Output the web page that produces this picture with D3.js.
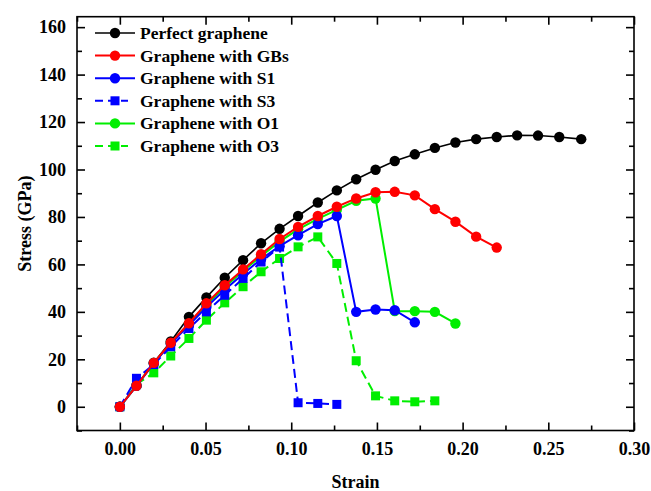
<!DOCTYPE html>
<html><head><meta charset="utf-8">
<script src="https://cdn.jsdelivr.net/npm/d3@7"></script>
<style>body{margin:0;background:#fff}svg{display:block}text{font-family:"Liberation Serif","Times New Roman",serif;font-weight:bold;fill:#000}</style>
</head><body>
<svg id="c" width="651" height="491"></svg>
<script>
// strain grid shared by all series
const strain = [0, 0.0097, 0.0198, 0.0297, 0.0403, 0.0505, 0.0612, 0.0719, 0.0824, 0.0932,
  0.1040, 0.1155, 0.1266, 0.1379, 0.1492, 0.1604, 0.1721, 0.1838, 0.1958, 0.2079,
  0.2199, 0.2318, 0.2440, 0.2564, 0.2692];
const perfect = [0, 9.0, 18.6, 27.5, 37.9, 46.1, 54.4, 61.8, 68.9, 75.0, 80.4, 86.1, 91.2, 95.9, 99.9,
  103.6, 106.4, 109.1, 111.4, 112.8, 113.7, 114.4, 114.3, 113.7, 112.8];
const gbs = [0, 8.85, 18.5, 27.0, 35.2, 43.6, 51.2, 57.9, 64.3, 70.7, 75.8, 80.4, 84.3, 87.8, 90.4,
  90.6, 89.1, 83.3, 78.0, 71.7, 67.1];
const s1 = [0, 8.8, 18.3, 26.6, 34.3, 42.0, 49.3, 56.0, 62.2, 67.7, 72.3, 77.0, 80.4, 40.0, 41.0, 40.7, 35.6];
const s3 = [0, 12.0, 17.8, 25.3, 33.0, 40.0, 47.0, 54.1, 61.0, 67.3, 1.7, 1.4, 1.0];
const o1 = [0, 8.8, 18.4, 26.8, 35.0, 43.0, 50.5, 57.2, 63.5, 69.6, 74.8, 79.2, 83.0, 86.8, 87.8, 40.3, 40.3, 40.0, 35.1];
const o3 = [0, 9.5, 14.3, 21.4, 28.8, 36.5, 43.8, 50.6, 56.9, 62.5, 67.4, 71.6, 60.4, 19.4, 4.6, 2.5, 2.1, 2.5];

const seriesNames = ["Perfect graphene", "Graphene with GBs", "Graphene with S1", "Graphene with S3", "Graphene with O1", "Graphene with O3"];
const seriesValues = [perfect, gbs, s1, s3, o1, o3];
const seriesColors = ["#000000", "#ff0000", "#0000ff", "#0000ff", "#00ee00", "#00ee00"];
const seriesMarker = ["circle", "circle", "circle", "square", "circle", "square"];
const seriesDashed = [false, false, false, true, false, true];
const drawOrder = [0, 5, 4, 3, 2, 1];

const xTicks = [0, 0.05, 0.10, 0.15, 0.20, 0.25, 0.30];
const yTicks = [0, 20, 40, 60, 80, 100, 120, 140, 160];

const L = 77, R = 634, T = 16.7, B = 430.5;
const x = d3.scaleLinear().domain([-0.025, 0.30]).range([L, R]);
const y = d3.scaleLinear().domain([-10, 164.4]).range([B, T]);

const svg = d3.select("#c");

// series
const line = d3.line().x(d => x(d[0])).y(d => y(d[1]));
drawOrder.forEach(i => {
  const pts = seriesValues[i].map((v, k) => [strain[k], v]);
  const g = svg.append("g");
  g.append("path").attr("d", line(pts)).attr("fill", "none")
    .attr("stroke", seriesColors[i]).attr("stroke-width", i === 0 ? 1.6 : 2)
    .attr("stroke-dasharray", seriesDashed[i] ? "9,5" : null);
  if (seriesMarker[i] === "circle") {
    g.selectAll("circle").data(pts).enter().append("circle")
      .attr("cx", d => x(d[0])).attr("cy", d => y(d[1])).attr("r", 5.2).attr("fill", seriesColors[i]);
  } else {
    g.selectAll("rect").data(pts).enter().append("rect")
      .attr("x", d => x(d[0]) - 4.5).attr("y", d => y(d[1]) - 4.5).attr("width", 9).attr("height", 9)
      .attr("fill", seriesColors[i]);
  }
});

// frame
svg.append("rect").attr("x", L).attr("y", T).attr("width", R - L).attr("height", B - T)
  .attr("fill", "none").attr("stroke", "#000").attr("stroke-width", 1.6);

// axes with inward ticks
const xMinor = d3.range(-0.025, 0.30001, 0.025).filter(v => xTicks.every(t => Math.abs(t - v) > 1e-6));
const yMinor = d3.range(-10, 165, 10).filter(v => yTicks.indexOf(v) < 0);

const gBottom = svg.append("g").attr("transform", `translate(0,${B})`)
  .call(d3.axisBottom(x).tickValues(xTicks).tickFormat(d3.format(".2f")).tickSizeInner(-8).tickSizeOuter(0).tickPadding(12));
const gBottomMinor = svg.append("g").attr("transform", `translate(0,${B})`)
  .call(d3.axisBottom(x).tickValues(xMinor).tickFormat("").tickSizeInner(-5).tickSizeOuter(0));
const gTop = svg.append("g").attr("transform", `translate(0,${T})`)
  .call(d3.axisTop(x).tickValues(xTicks).tickFormat("").tickSizeInner(-8).tickSizeOuter(0));
const gTopMinor = svg.append("g").attr("transform", `translate(0,${T})`)
  .call(d3.axisTop(x).tickValues(xMinor).tickFormat("").tickSizeInner(-5).tickSizeOuter(0));
const gLeft = svg.append("g").attr("transform", `translate(${L},0)`)
  .call(d3.axisLeft(y).tickValues(yTicks).tickFormat(d3.format("d")).tickSizeInner(-8).tickSizeOuter(0).tickPadding(11));
const gLeftMinor = svg.append("g").attr("transform", `translate(${L},0)`)
  .call(d3.axisLeft(y).tickValues(yMinor).tickFormat("").tickSizeInner(-5).tickSizeOuter(0));
const gRight = svg.append("g").attr("transform", `translate(${R},0)`)
  .call(d3.axisRight(y).tickValues(yTicks).tickFormat("").tickSizeInner(-8).tickSizeOuter(0));
const gRightMinor = svg.append("g").attr("transform", `translate(${R},0)`)
  .call(d3.axisRight(y).tickValues(yMinor).tickFormat("").tickSizeInner(-5).tickSizeOuter(0));

[gBottom, gBottomMinor, gTop, gTopMinor, gLeft, gLeftMinor, gRight, gRightMinor].forEach(g => {
  g.select(".domain").remove();
  g.selectAll("line").attr("stroke", "#000").attr("stroke-width", 1.6);
  g.selectAll("text").attr("font-family", "'Liberation Serif', serif").attr("font-weight", "bold")
    .attr("font-size", 18).attr("fill", "#000");
});

// axis titles
svg.append("text").attr("x", (L + R) / 2).attr("y", 488).attr("text-anchor", "middle")
  .attr("font-size", 18).text("Strain");
svg.append("text").attr("transform", `translate(31,${(T + B) / 2}) rotate(-90)`).attr("text-anchor", "middle")
  .attr("font-size", 18).text("Stress (GPa)");

// legend
const lg = svg.append("g");
seriesNames.forEach((name, i) => {
  const yy = 33 + i * 22.6;
  const row = lg.append("g");
  row.append("line").attr("x1", 95).attr("x2", seriesDashed[i] ? 128 : 135).attr("y1", yy).attr("y2", yy)
    .attr("stroke", seriesColors[i]).attr("stroke-width", i === 0 ? 1.6 : 2)
    .attr("stroke-dasharray", seriesDashed[i] ? "8,5" : null);
  if (seriesMarker[i] === "circle") {
    row.append("circle").attr("cx", 115).attr("cy", yy).attr("r", 5.2).attr("fill", seriesColors[i]);
  } else {
    row.append("rect").attr("x", 110.5).attr("y", yy - 4.5).attr("width", 9).attr("height", 9).attr("fill", seriesColors[i]);
  }
  row.append("text").attr("x", 140).attr("y", yy + 6).attr("font-size", 17.5).text(name);
});
</script>
</body></html>
